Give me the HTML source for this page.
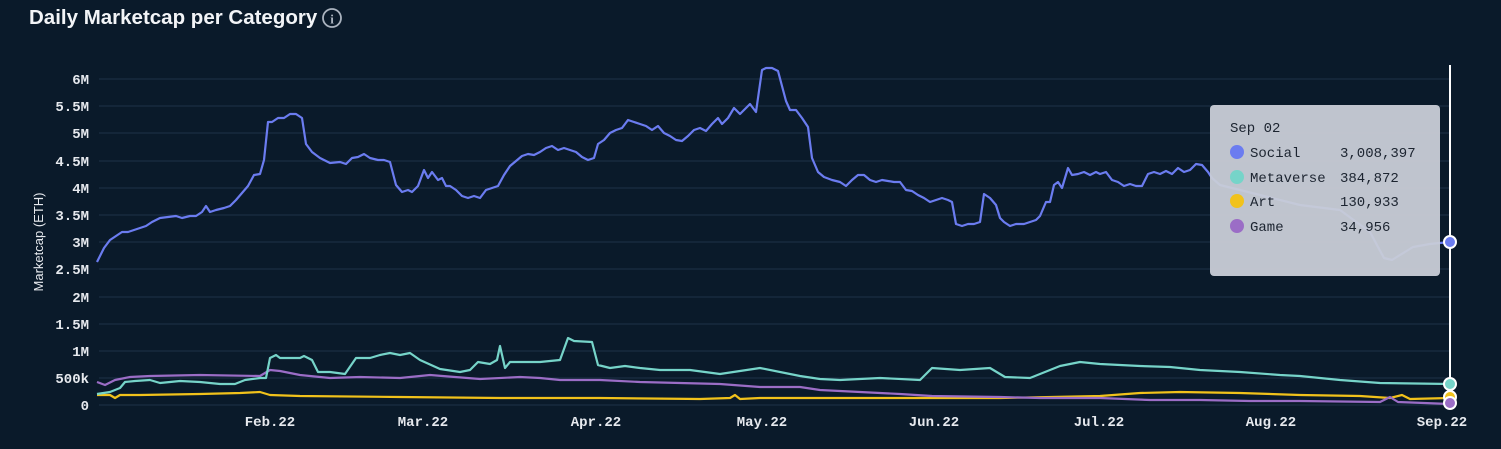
<!DOCTYPE html>
<html><head><meta charset="utf-8"><style>
html,body{margin:0;padding:0;background:#0a1a2a;width:1501px;height:449px;overflow:hidden}
svg{display:block}
</style></head><body>
<svg width="1501" height="449" viewBox="0 0 1501 449" xmlns="http://www.w3.org/2000/svg">
<rect width="1501" height="449" fill="#0a1a2a"/>
<text x="29" y="24" font-family="Liberation Sans, sans-serif" font-size="20.5" font-weight="bold" fill="#f2f4f7">Daily Marketcap per Category</text>
<circle cx="332" cy="18" r="9" fill="none" stroke="#aab3bf" stroke-width="1.8"/>
<text x="332" y="23.5" text-anchor="middle" font-family="Liberation Serif, serif" font-size="13" font-weight="bold" fill="#aab3bf">i</text>
<g stroke="#1d3148" stroke-width="1">
<line x1="99" x2="1450" y1="79" y2="79"/><line x1="99" x2="1450" y1="106" y2="106"/><line x1="99" x2="1450" y1="133" y2="133"/><line x1="99" x2="1450" y1="161" y2="161"/><line x1="99" x2="1450" y1="188" y2="188"/><line x1="99" x2="1450" y1="215" y2="215"/><line x1="99" x2="1450" y1="242" y2="242"/><line x1="99" x2="1450" y1="269" y2="269"/><line x1="99" x2="1450" y1="297" y2="297"/><line x1="99" x2="1450" y1="324" y2="324"/><line x1="99" x2="1450" y1="351" y2="351"/><line x1="99" x2="1450" y1="378" y2="378"/><line x1="99" x2="1450" y1="405" y2="405"/>
</g>
<g font-family="Liberation Mono, monospace" font-size="14" font-weight="bold" fill="#e6e9ee" text-anchor="end">
<text x="89" y="84">6M</text><text x="89" y="111">5.5M</text><text x="89" y="138">5M</text><text x="89" y="166">4.5M</text><text x="89" y="193">4M</text><text x="89" y="220">3.5M</text><text x="89" y="247">3M</text><text x="89" y="274">2.5M</text><text x="89" y="302">2M</text><text x="89" y="329">1.5M</text><text x="89" y="356">1M</text><text x="89" y="383">500k</text><text x="89" y="410">0</text>
</g>
<text transform="translate(43,242) rotate(-90)" text-anchor="middle" font-family="Liberation Sans, sans-serif" font-size="13" fill="#e6e9ee">Marketcap (ETH)</text>
<g font-family="Liberation Mono, monospace" font-size="14" font-weight="bold" fill="#e6e9ee" text-anchor="middle">
<text x="270" y="426">Feb.22</text><text x="423" y="426">Mar.22</text><text x="596" y="426">Apr.22</text><text x="762" y="426">May.22</text><text x="934" y="426">Jun.22</text><text x="1099" y="426">Jul.22</text><text x="1271" y="426">Aug.22</text><text x="1442" y="426">Sep.22</text>
</g>
<g fill="none" stroke-width="2.2" stroke-linejoin="round">
<polyline stroke="#f1c21b" points="97,395 110,395 115,398 120,395 140,395 200,394 240,393 260,392 270,395 300,396 400,397 500,398 600,398 700,399 730,398 735,395 740,399 760,398 800,398 900,398 1000,398 1100,396 1140,393 1180,392 1240,393 1300,395 1360,396 1390,398 1402,395 1410,399 1450,398"/>
<polyline stroke="#9b6dc6" points="97,382 105,385 115,380 130,377 150,376 200,375 260,376 270,370 280,371 300,375 330,378 360,377 400,378 430,375 480,379 520,377 540,378 560,380 600,380 640,382 680,383 720,384 760,387 800,387 820,390 860,392 900,394 932,396 1000,397 1040,398 1100,398 1150,400 1200,400 1250,401 1300,401 1380,402 1390,397 1398,402 1450,404"/>
<polyline stroke="#76d4c9" points="97,394 110,392 120,388 125,382 135,381 150,380 160,383 180,381 200,382 220,384 235,384 245,380 260,378 266,378 270,358 276,355 280,358 290,358 300,358 304,356 312,360 318,372 330,372 345,374 356,358 370,358 380,355 390,353 400,355 410,353 420,360 440,369 460,372 470,370 478,362 490,364 497,360 500,346 505,368 510,362 520,362 540,362 560,360 568,338 574,341 592,342 598,365 610,368 625,366 640,368 660,370 690,370 720,374 760,368 800,376 820,379 840,380 880,378 920,380 932,368 960,370 990,368 1005,377 1030,378 1060,366 1080,362 1100,364 1140,366 1170,367 1200,370 1240,372 1280,375 1300,376 1340,380 1380,383 1450,384"/>
<polyline stroke="#6b7cf0" points="97,262 104,248 110,240 116,236 122,232 128,232 134,230 140,228 146,226 152,222 160,218 168,217 176,216 182,218 190,216 196,216 202,212 206,206 210,212 216,210 224,208 230,206 236,200 242,193 248,186 254,175 260,174 264,160 268,122 272,122 278,118 284,118 290,114 296,114 302,118 306,144 312,152 320,158 330,163 340,162 346,164 352,158 358,157 364,154 370,158 378,160 384,160 390,162 396,185 402,192 408,190 412,192 418,186 424,170 428,178 432,172 438,180 442,178 446,186 450,186 456,190 462,196 468,198 474,196 480,198 486,190 492,188 498,186 504,175 510,166 516,161 522,156 528,154 534,155 540,152 546,148 552,146 558,150 564,148 570,150 576,152 582,157 588,160 594,158 598,144 604,140 610,133 616,130 622,128 628,120 634,122 640,124 646,126 652,130 658,126 664,133 670,136 676,140 682,141 688,136 694,130 700,128 706,131 712,124 718,118 722,124 728,118 734,108 740,114 746,108 750,104 756,112 762,70 766,68 772,68 778,71 782,86 786,101 790,110 796,110 802,118 808,127 812,158 818,172 824,177 832,180 840,182 846,186 852,180 858,175 864,175 870,180 876,182 882,180 888,181 894,182 900,182 906,190 912,191 918,195 924,198 930,202 936,200 942,198 948,200 952,202 956,224 962,226 968,224 974,224 980,222 984,194 990,198 996,205 1000,218 1004,222 1010,226 1016,224 1024,224 1030,222 1036,220 1040,216 1046,202 1050,202 1054,185 1058,182 1062,188 1068,168 1072,175 1078,174 1084,172 1090,175 1096,172 1100,174 1106,172 1112,180 1118,182 1124,186 1130,184 1136,186 1142,186 1148,174 1154,172 1160,174 1166,171 1172,174 1178,168 1184,172 1190,170 1196,164 1202,165 1208,172 1212,178 1220,185 1260,195 1300,205 1340,210 1370,232 1378,247 1384,258 1392,260 1400,255 1413,247 1430,244 1450,242"/>
</g>
<line x1="1450" y1="65" x2="1450" y2="405" stroke="#ffffff" stroke-width="2"/>
<rect x="1210" y="105" width="230" height="171" rx="4" fill="#c9ced7" fill-opacity="0.95"/>
<g font-family="Liberation Mono, monospace" font-size="14" fill="#1c2430">
<text x="1230" y="132">Sep 02</text>
<circle cx="1237" cy="152" r="7" fill="#6b7cf0"/><text x="1250" y="157">Social</text><text x="1340" y="157">3,008,397</text>
<circle cx="1237" cy="177" r="7" fill="#76d4c9"/><text x="1250" y="182">Metaverse</text><text x="1340" y="182">384,872</text>
<circle cx="1237" cy="201" r="7" fill="#f1c21b"/><text x="1250" y="206">Art</text><text x="1340" y="206">130,933</text>
<circle cx="1237" cy="226" r="7" fill="#9b6dc6"/><text x="1250" y="231">Game</text><text x="1340" y="231">34,956</text>
</g>
<g stroke="#ffffff" stroke-width="2">
<circle cx="1450" cy="242" r="6" fill="#6b7cf0"/>
<circle cx="1450" cy="384" r="6" fill="#76d4c9"/>
<circle cx="1450" cy="397" r="6" fill="#f1c21b"/>
<circle cx="1450" cy="403" r="6" fill="#9b6dc6"/>
</g>
</svg>
</body></html>
